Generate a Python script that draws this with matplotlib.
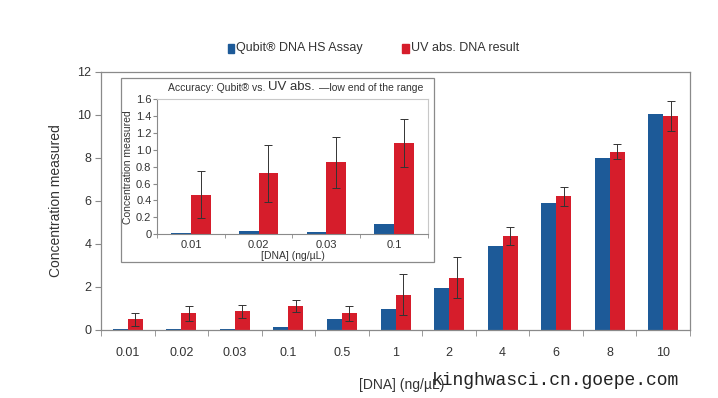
import matplotlib
matplotlib.use("Agg")
import matplotlib.pyplot as plt
import numpy as np
from matplotlib.patches import Rectangle

plt.rcParams['font.family'] = ['Liberation Sans', 'DejaVu Sans']

# Main chart data
categories = ["0.01", "0.02", "0.03", "0.1", "0.5", "1", "2", "4", "6", "8", "10"]
qubit = [0.05, 0.05, 0.05, 0.13, 0.53, 0.98, 1.95, 3.92, 5.92, 8.0, 10.05]
uv = [0.5, 0.78, 0.88, 1.1, 0.78, 1.65, 2.44, 4.37, 6.22, 8.3, 9.95]
uv_err = [0.3, 0.34, 0.3, 0.28, 0.34, 0.95, 0.95, 0.4, 0.45, 0.35, 0.68]
yticks_main = [0, 2, 4, 6, 8, 10, 12]

# Inset data
inset_categories = ["0.01", "0.02", "0.03", "0.1"]
inset_qubit = [0.02, 0.04, 0.03, 0.12]
inset_uv = [0.47, 0.72, 0.85, 1.08]
inset_uv_err = [0.28, 0.34, 0.3, 0.28]
yticks_inset = [0, 0.2, 0.4, 0.6, 0.8, 1.0, 1.2, 1.4, 1.6]
yticklabels_inset = ["0", "0.2", "0.4", "0.6", "0.8", "1.0", "1.2", "1.4", "1.6"]

BLUE = "#1d5a98"
RED = "#d61d2b"
SPINE = "#8a8a8a"
TEXT = "#333333"

fig = plt.figure(figsize=(7.18, 3.98), dpi=100)

# ---- main axes ----
ax = fig.add_axes([0.1407, 0.1709, 0.8203, 0.6483])
x = np.arange(len(categories))
w = 0.28
ax.bar(x - w / 2, qubit, width=w, color=BLUE, zorder=2)
ax.bar(x + w / 2, uv, width=w, color=RED, zorder=2)
ax.errorbar(x + w / 2, uv, yerr=uv_err, fmt="none", ecolor="#333333",
            elinewidth=0.7, capsize=3, capthick=0.7, zorder=3)
ax.set_xlim(-0.5, len(categories) - 0.5)
ax.set_ylim(0, 12)
ax.set_yticks(yticks_main)
ax.set_yticklabels([str(v) for v in yticks_main])
ax.set_xticks(x)
ax.set_xticklabels(categories)
ax.set_xticks(np.arange(-0.5, len(categories) + 0.5, 1), minor=True)
ax.tick_params(axis="x", which="major", length=0, pad=12, labelsize=9, labelcolor=TEXT)
ax.tick_params(axis="x", which="minor", length=4, color=SPINE, direction="out")
ax.tick_params(axis="y", length=4, color=SPINE, labelsize=9, labelcolor=TEXT, pad=3)
for s in ax.spines.values():
    s.set_color(SPINE)
    s.set_linewidth(0.9)
ax.set_ylabel("Concentration measured", fontsize=10, color=TEXT)
ax.yaxis.set_label_coords(-0.065, 0.5)
ax.set_xlabel("[DNA] (ng/\u00b5L)", fontsize=10, color=TEXT)
ax.xaxis.set_label_coords(0.51, -0.185)

# ---- legend ----
fig.patches.append(Rectangle((0.3175, 0.868), 0.0085, 0.022, transform=fig.transFigure,
                             color=BLUE, figure=fig))
fig.text(0.329, 0.879, "Qubit\u00ae DNA HS Assay", fontsize=9, color=TEXT, va="center")
fig.patches.append(Rectangle((0.5605, 0.868), 0.0085, 0.022, transform=fig.transFigure,
                             color=RED, figure=fig))
fig.text(0.572, 0.879, "UV abs. DNA result", fontsize=9, color=TEXT, va="center")

# ---- inset frame ----
frame = Rectangle((0.1685, 0.3417), 0.436, 0.4623, transform=fig.transFigure,
                  facecolor="white", edgecolor=SPINE, linewidth=0.9, figure=fig, zorder=5)
fig.patches.append(frame)

# ---- inset axes ----
ai = fig.add_axes([0.2187, 0.4113, 0.3773, 0.34], zorder=6)
xi = np.arange(len(inset_categories))
wi = 0.29
ai.bar(xi - wi / 2, inset_qubit, width=wi, color=BLUE, zorder=2)
ai.bar(xi + wi / 2, inset_uv, width=wi, color=RED, zorder=2)
ai.errorbar(xi + wi / 2, inset_uv, yerr=inset_uv_err, fmt="none", ecolor="#333333",
            elinewidth=0.7, capsize=3, capthick=0.7, zorder=3)
ai.set_xlim(-0.5, len(inset_categories) - 0.5)
ai.set_ylim(0, 1.6)
ai.set_yticks(yticks_inset)
ai.set_yticklabels(yticklabels_inset)
ai.set_xticks(xi)
ai.set_xticklabels(inset_categories)
ai.set_xticks(np.arange(-0.5, len(inset_categories) + 0.5, 1), minor=True)
ai.tick_params(axis="x", which="major", length=0, pad=4, labelsize=8, labelcolor=TEXT)
ai.tick_params(axis="x", which="minor", length=3, color=SPINE, direction="out")
ai.tick_params(axis="y", length=3, color=SPINE, labelsize=8, labelcolor=TEXT, pad=1)
for name, s in ai.spines.items():
    s.set_color(SPINE if name in ("left", "bottom") else "#c8c8c8")
    s.set_linewidth(0.8)
ai.set_ylabel("Concentration measured", fontsize=7.5, color=TEXT)
ai.yaxis.set_label_coords(-0.09, 0.5)
ai.set_xlabel("[DNA] (ng/\u00b5L)", fontsize=7.5, color=TEXT, labelpad=1)

# inset title with mixed sizes
t1 = fig.text(0.2335, 0.779, "Accuracy: Qubit\u00ae vs. ", fontsize=7.5, color=TEXT,
              va="center", zorder=7)
fig.canvas.draw()
r = fig.canvas.get_renderer()
bb = t1.get_window_extent(r).transformed(fig.transFigure.inverted())
t2 = fig.text(bb.x1, 0.781, "UV abs.", fontsize=9.5, color=TEXT, va="center", zorder=7)
bb2 = t2.get_window_extent(r).transformed(fig.transFigure.inverted())
fig.text(bb2.x1 + 0.006, 0.779, "\u2014low end of the range", fontsize=7.5, color=TEXT,
         va="center", zorder=7)

# watermark text
fig.text(0.602, 0.045, "kinghwasci.cn.goepe.com", fontsize=13,
         family="Liberation Mono", color="#222222", va="center")

fig.savefig("out.png", dpi=100)
